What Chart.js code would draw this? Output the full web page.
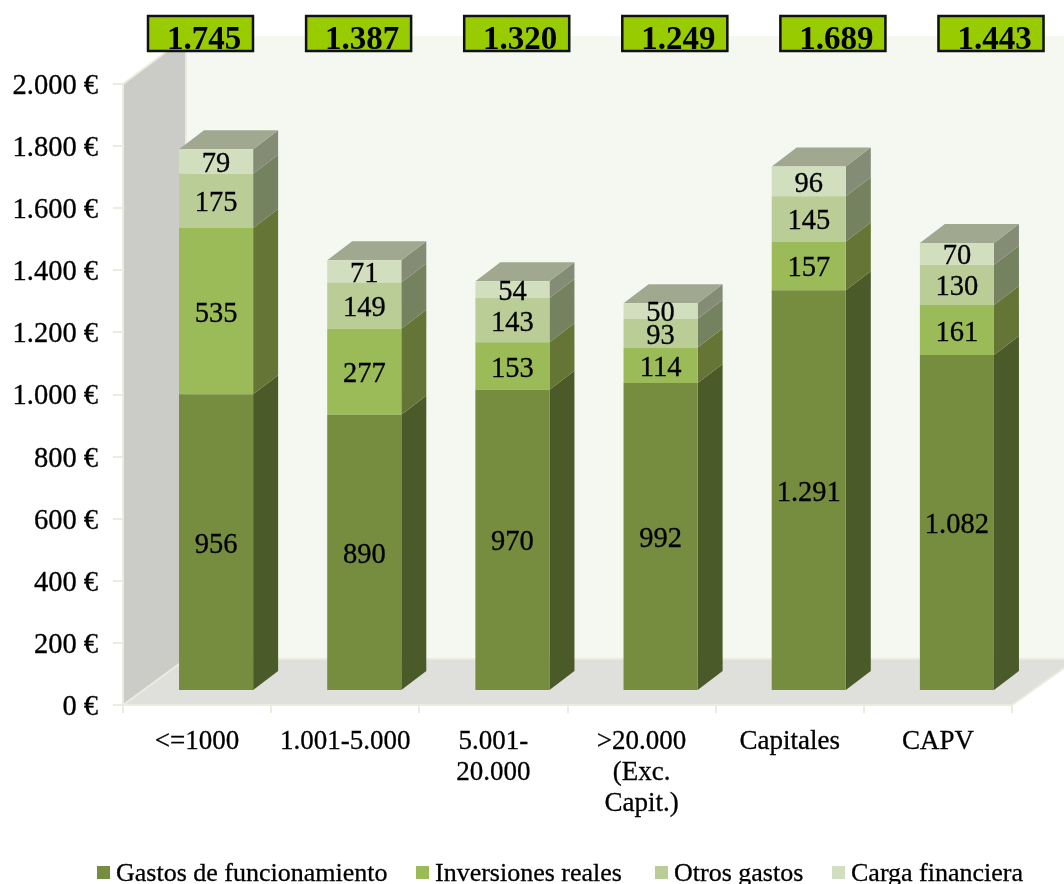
<!DOCTYPE html>
<html><head><meta charset="utf-8">
<style>html,body{margin:0;padding:0;background:#fff}canvas{display:block}</style>
<script src="https://cdn.jsdelivr.net/npm/chart.js@4"></script>
</head><body><canvas id="c" width="1064" height="884"></canvas>
<script>
const categories = ["<=1000","1.001-5.000",["5.001-","20.000"],[">20.000","(Exc.","Capit.)"],"Capitales","CAPV"];
const gastosFuncionamiento = [956,890,970,992,1291,1082];
const inversionesReales = [535,277,153,114,157,161];
const otrosGastos = [175,149,143,93,145,130];
const cargaFinanciera = [79,71,54,50,96,70];
const totals = ["1.745","1.387","1.320","1.249","1.689","1.443"];
const seriesNames = ["Gastos de funcionamiento","Inversiones reales","Otros gastos","Carga financiera"];
const frontColors = ["#768c3f","#9bbb59","#bbcd96","#d2dfbf"];
const sideColors = ["#4b5a29","#657536","#748260","#858c75"];
const topColor = "#a0a88f";
const FONT = '"Liberation Serif", serif';
const DX=25, DY=19, OX=19, OY=14;
const fmt = v => String(v).replace(/\B(?=(\d{3})+$)/g,'.');

const scene = {
  id:'scene',
  beforeDraw(ch){
    const c=ch.ctx, a=ch.chartArea, W=63, H=46;
    c.save();
    c.fillStyle='#f5f8f1';
    c.fillRect(a.left+W,a.top-H-2,1064-a.left-W,a.bottom-a.top+2);
    c.fillStyle='#cbccc8';c.strokeStyle='#ecebdf';c.lineWidth=2;
    c.beginPath();c.moveTo(a.left,a.top);c.lineTo(a.left+W,a.top-H-1);c.lineTo(a.left+W,a.bottom-H);c.lineTo(a.left,a.bottom);c.closePath();c.fill();
    c.beginPath();c.moveTo(a.left+W,a.top-H-1);c.lineTo(a.left,a.top);c.lineTo(a.left,a.bottom);c.stroke();
    c.beginPath();c.moveTo(a.left+W,a.top-H-1);c.lineTo(a.left+W,a.bottom-H);c.stroke();
    c.fillStyle='#dfe0dc';
    c.beginPath();c.moveTo(a.left,a.bottom);c.lineTo(a.left+W,a.bottom-H);c.lineTo(1064,a.bottom-H);c.lineTo(1064,a.bottom-37);c.lineTo(a.right,a.bottom);c.closePath();c.fill();
    c.beginPath();c.moveTo(a.left,a.bottom);c.lineTo(a.left+W,a.bottom-H);c.lineTo(1064,a.bottom-H);c.moveTo(1064,a.bottom-37);c.lineTo(a.right,a.bottom);c.lineTo(a.left,a.bottom);c.stroke();
    c.restore();
  },
  beforeDatasetsDraw(ch){
    const c=ch.ctx;
    c.save();
    c.translate(OX,-OY);
    ch.data.datasets.forEach((d,i)=>{
      ch.getDatasetMeta(i).data.forEach(b=>{
        const p=b.getProps(['x','y','base','width'],true), r=p.x+p.width/2;
        c.fillStyle=sideColors[i];
        c.beginPath();c.moveTo(r,p.base);c.lineTo(r+DX,p.base-DY);c.lineTo(r+DX,p.y-DY);c.lineTo(r,p.y);c.closePath();c.fill();
        if(i===ch.data.datasets.length-1){
          const l=p.x-p.width/2;
          c.fillStyle=topColor;
          c.beginPath();c.moveTo(l,p.y);c.lineTo(l+DX,p.y-DY);c.lineTo(r+DX,p.y-DY);c.lineTo(r,p.y);c.closePath();c.fill();
        }
      });
    });
  },
  afterDatasetsDraw(ch){
    const c=ch.ctx;
    c.restore();
    c.save();
    c.font='28.5px '+FONT;c.fillStyle='#000';c.strokeStyle='#000';c.lineWidth=0.3;c.textAlign='center';c.textBaseline='middle';
    ch.data.datasets.forEach((d,i)=>{
      ch.getDatasetMeta(i).data.forEach((b,j)=>{
        const p=b.getProps(['x','y','base'],true), y=(p.y+p.base)/2-OY+3;
        c.fillText(fmt(d.data[j]),p.x+OX,y);
        c.strokeText(fmt(d.data[j]),p.x+OX,y);
      });
    });
    c.restore();
  },
  afterDraw(ch){
    const c=ch.ctx;
    c.save();
    totals.forEach((t,i)=>{
      const x=147+i*158.1;
      c.fillStyle='#99cc00';c.fillRect(x,15,107,37);
      c.strokeStyle='#111';c.lineWidth=2.5;c.strokeRect(x+1,16,105,35);
      c.fillStyle='#000';c.font='bold 33px '+FONT;c.textAlign='center';c.textBaseline='alphabetic';
      c.fillText(t,x+57,49);
    });
    const boxX=[97,416,655,832], txtX=[116,435,674,851];
    c.textBaseline='alphabetic';c.textAlign='left';c.font='26px '+FONT;c.strokeStyle='#000';c.lineWidth=0.3;
    seriesNames.forEach((n,i)=>{
      c.fillStyle=frontColors[i];c.fillRect(boxX[i],866,13,13);
      c.fillStyle='#000';c.fillText(n,txtX[i],881);c.strokeText(n,txtX[i],881);
    });
    c.restore();
  }
};

new Chart(document.getElementById('c'),{
  type:'bar',
  data:{labels:categories,datasets:[gastosFuncionamiento,inversionesReales,otrosGastos,cargaFinanciera].map((v,i)=>({
    label:seriesNames[i],data:v,backgroundColor:frontColors[i],borderWidth:0,categoryPercentage:1,barPercentage:0.5
  }))},
  options:{
    responsive:false,animation:false,
    layout:{padding:{top:84,right:52,left:0,bottom:0}},
    plugins:{legend:{display:false},tooltip:{enabled:false}},
    scales:{
      x:{stacked:true,
        afterFit(s){s.height=179;},
        border:{display:false},
        grid:{drawOnChartArea:false,tickLength:8,color:'#ecebdf',lineWidth:2,offset:true},
        ticks:{color:'#000',font:{family:FONT,size:27,lineHeight:1.15},padding:13,maxRotation:0,minRotation:0,autoSkip:false,textStrokeColor:'#000',textStrokeWidth:0.3}
      },
      y:{stacked:true,min:0,max:2000,
        afterFit(s){s.width=123;},
        border:{display:false},
        grid:{drawOnChartArea:false,tickLength:10,color:'#ecebdf',lineWidth:2},
        ticks:{stepSize:200,color:'#000',padding:15,labelOffset:2.5,font:{family:FONT,size:28.5},textStrokeColor:'#000',textStrokeWidth:0.3,callback:v=>fmt(v)+' €'}
      }
    }
  },
  plugins:[scene]
});
</script></body></html>
